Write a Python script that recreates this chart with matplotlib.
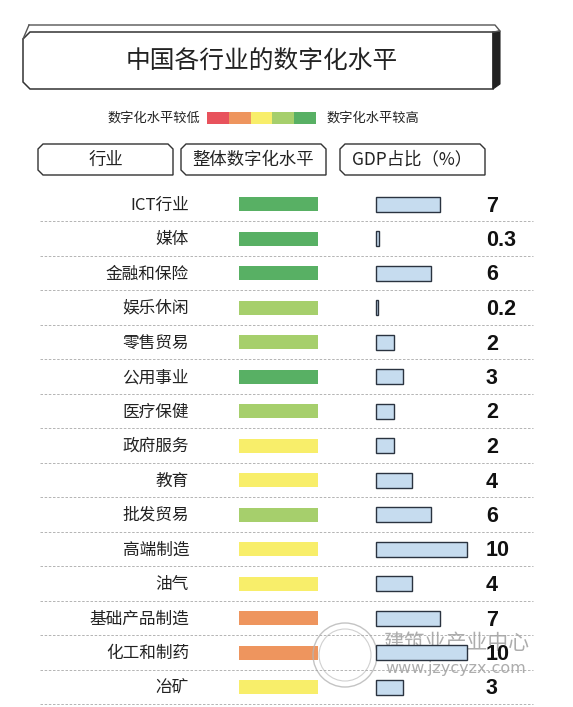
import matplotlib
matplotlib.use("Agg")
import matplotlib.pyplot as plt
from matplotlib.patches import Polygon, Rectangle, Circle

plt.rcParams['font.family'] = ['Noto Sans CJK SC', 'DejaVu Sans']

# ---- data ----
industries = ["ICT行业", "媒体", "金融和保险", "娱乐休闲", "零售贸易", "公用事业", "医疗保健",
              "政府服务", "教育", "批发贸易", "高端制造", "油气", "基础产品制造", "化工和制药", "冶矿"]
digital_level = [5, 5, 5, 4, 4, 5, 4, 3, 3, 4, 3, 3, 2, 2, 3]   # 1 = low ... 5 = high
gdp_share = [7, 0.3, 6, 0.2, 2, 3, 2, 2, 4, 6, 10, 4, 7, 10, 3]
gdp_labels = ["7", "0.3", "6", "0.2", "2", "3", "2", "2", "4", "6", "10", "4", "7", "10", "3"]

LEVEL_COLORS = {1: "#e8525c", 2: "#ee955e", 3: "#f8ee6a", 4: "#a6cf6c", 5: "#58b064"}
TXT = "#222222"
W, H = 573, 707

fig = plt.figure(figsize=(W / 100, H / 100), dpi=100)
fig.patch.set_facecolor("white")
ax = fig.add_axes([0, 0, 1, 1])
ax.set_xlim(0, W); ax.set_ylim(H, 0); ax.axis("off")

# ---- title box (3D look) ----
front = [(30, 32), (493, 32), (493, 89), (30, 89), (23, 82), (23, 39)]
ax.add_patch(Polygon(front, closed=True, fc="white", ec="#333", lw=1.1))
ax.plot([29, 495, 500, 493], [25, 25, 31, 32], color="#555", lw=1.0)
ax.plot([23, 29], [39, 25], color="#555", lw=1.0)
ax.add_patch(Polygon([(493, 32), (500, 31), (500, 84), (493, 89)], closed=True,
                     fc="#222", ec="#222", lw=0.8))
ax.text(262, 62, "中国各行业的数字化水平", fontsize=17.8, ha="center", va="center", color=TXT,
        weight="light")

# ---- legend ----
ax.text(200, 118, "数字化水平较低", fontsize=9.5, ha="right", va="center", color=TXT)
sw = 21.8
for k, lvl in enumerate(sorted(LEVEL_COLORS)):
    ax.add_patch(Rectangle((207 + k * sw, 112), sw, 12, fc=LEVEL_COLORS[lvl], ec="none"))
ax.text(326, 118, "数字化水平较高", fontsize=9.5, ha="left", va="center", color=TXT)

# ---- column header boxes ----
def header_box(x0, x1, label):
    y0, y1, c = 144, 175, 5
    pts = [(x0 + c, y0), (x1 - c, y0), (x1, y0 + c), (x1, y1), (x0 + c, y1), (x0, y1 - c),
           (x0, y0 + c)]
    ax.add_patch(Polygon(pts, closed=True, fc="white", ec="#333", lw=1.0))
    ax.text((x0 + x1) / 2, (y0 + y1) / 2, label, fontsize=12.5, ha="center", va="center", color=TXT)

header_box(38, 173, "行业")
header_box(181, 326, "整体数字化水平")
header_box(340, 485, "GDP占比（%）")

# ---- rows ----
y0, step = 204, 34.5
rows_y = [y0 + i * step for i in range(len(industries))]

ax.barh(rows_y, 79, left=239, height=14,
        color=[LEVEL_COLORS[v] for v in digital_level], edgecolor="none")

for y, name, lab in zip(rows_y, industries, gdp_labels):
    ax.text(189, y + 1, name, fontsize=12, ha="right", va="center", color=TXT)
    ax.text(486, y + 2, lab, fontsize=15.5, ha="left", va="center", color="#111",
            family="Liberation Sans", weight="bold", zorder=4)
    ax.plot([40, 533], [y + 17, y + 17], color="#a8a8a8", lw=0.6, ls=(0, (3, 2)))

# GDP bars in their own axes, x in percent
px_per_unit = 9.1
ax_g = fig.add_axes([376 / W, 0, 10 * px_per_unit / W, 1])
ax_g.set_xlim(0, 10); ax_g.set_ylim(H, 0); ax_g.axis("off")
ax_g.patch.set_alpha(0)
ax_g.barh(rows_y, gdp_share, height=15, color="#c6dcef", edgecolor="#2a3340", lw=1.0,
          clip_on=False)

# ---- watermark ----
ax.add_patch(Circle((345, 655), 32, fc="none", ec="#b5b5b5", lw=1.0, alpha=0.8))
ax.add_patch(Circle((345, 655), 26, fc="none", ec="#c5c5c5", lw=0.8, alpha=0.8))
ax.text(456, 643, "建筑业产业中心", fontsize=15, ha="center", va="center", color="#8a8a8a",
        alpha=0.7, zorder=1)
ax.text(456, 668, "www.jzycyzx.com", fontsize=11.5, ha="center", va="center", color="#8a8a8a",
        alpha=0.7, family="DejaVu Sans", zorder=1)

fig.savefig("out.png", dpi=100, facecolor="white")
